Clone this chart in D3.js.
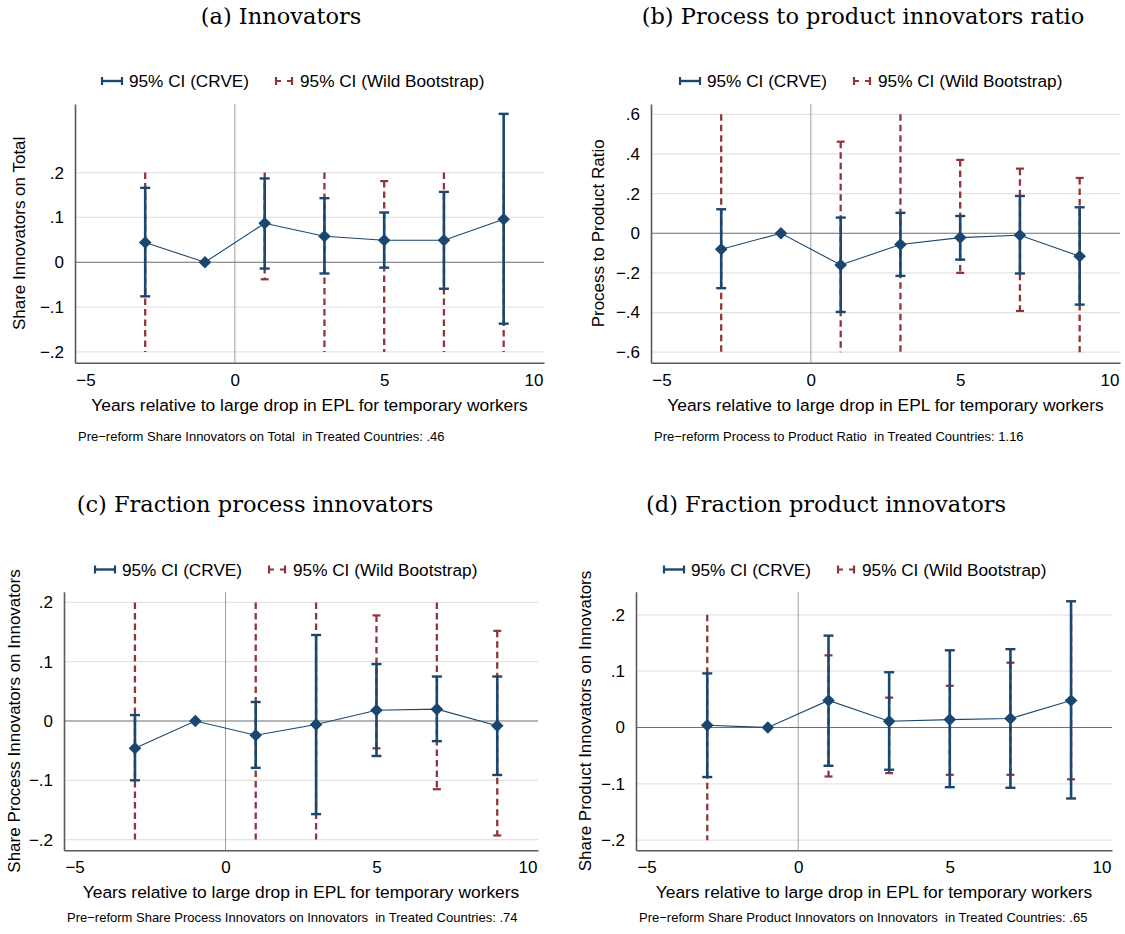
<!DOCTYPE html>
<html>
<head>
<meta charset="utf-8">
<script src="https://cdn.jsdelivr.net/npm/d3@7"></script>
<style>
body { margin: 0; background: #fff; }
text { font-family: "Liberation Sans", Arial, sans-serif; }
</style>
</head>
<body>
<svg id="chart" width="1125" height="934"></svg>
<script>
// event-study years (relative to the EPL reform)
var years = [-3, -1, 1, 3, 5, 7, 9];
var xTicks = [-5, 0, 5, 10];

// (a) share innovators on total
var innovCoef   = [0.044, 0, 0.087, 0.058, 0.049, 0.049, 0.096];
var innovCrveLo = [-0.076, null, -0.014, -0.025, -0.012, -0.059, -0.137];
var innovCrveHi = [0.166, null, 0.187, 0.143, 0.111, 0.157, 0.331];
var innovWildLo = [-0.2, null, -0.038, -0.2, -0.2, -0.2, -0.2];
var innovWildHi = [0.2, null, 0.2, 0.2, 0.181, 0.2, 0.2];

// (b) process to product ratio
var ratioCoef   = [-0.081, 0, -0.160, -0.057, -0.022, -0.010, -0.116];
var ratioCrveLo = [-0.277, null, -0.397, -0.215, -0.133, -0.203, -0.360];
var ratioCrveHi = [0.121, null, 0.079, 0.103, 0.087, 0.188, 0.131];
var ratioWildLo = [-0.6, null, -0.6, -0.6, -0.2, -0.392, -0.6];
var ratioWildHi = [0.6, null, 0.462, 0.6, 0.370, 0.326, 0.279];

// (c) fraction process innovators
var procCoef   = [-0.046, 0, -0.024, -0.006, 0.018, 0.020, -0.008];
var procCrveLo = [-0.100, null, -0.079, -0.157, -0.059, -0.034, -0.091];
var procCrveHi = [0.010, null, 0.032, 0.145, 0.096, 0.075, 0.075];
var procWildLo = [-0.2, null, -0.2, -0.2, -0.046, -0.115, -0.193];
var procWildHi = [0.2, null, 0.2, 0.2, 0.178, 0.2, 0.152];

// (d) fraction product innovators
var prodCoef   = [0.004, 0, 0.048, 0.011, 0.014, 0.016, 0.048];
var prodCrveLo = [-0.088, null, -0.068, -0.075, -0.106, -0.107, -0.126];
var prodCrveHi = [0.096, null, 0.163, 0.098, 0.137, 0.139, 0.224];
var prodWildLo = [-0.2, null, -0.087, -0.081, -0.084, -0.084, -0.092];
var prodWildHi = [0.2, null, 0.128, 0.053, 0.074, 0.115, 0.2];

var panelTitles = ["(a) Innovators", "(b) Process to product innovators ratio",
                   "(c) Fraction process innovators", "(d) Fraction product innovators"];
var yTitles = ["Share Innovators on Total", "Process to Product Ratio",
               "Share Process Innovators on Innovators", "Share Product Innovators on Innovators"];
var preReform = [".46", "1.16", ".74", ".65"];
var yTickSets = [[-0.2, -0.1, 0, 0.1, 0.2],
                 [-0.6, -0.4, -0.2, 0, 0.2, 0.4, 0.6],
                 [-0.2, -0.1, 0, 0.1, 0.2],
                 [-0.2, -0.1, 0, 0.1, 0.2]];
var yDomains = [[-0.224, 0.353], [-0.653, 0.652], [-0.218, 0.218], [-0.218, 0.241]];
var xDomain = [-5.35, 10.35];
// wild bootstrap CIs are truncated at this bound (no cap drawn there)
var wildClip = [0.2, 0.6, 0.2, 0.2];
var legendLabels = ["95% CI (CRVE)", "95% CI (Wild Bootstrap)"];

var series = [
    {coef: innovCoef, crveLo: innovCrveLo, crveHi: innovCrveHi, wildLo: innovWildLo, wildHi: innovWildHi},
    {coef: ratioCoef, crveLo: ratioCrveLo, crveHi: ratioCrveHi, wildLo: ratioWildLo, wildHi: ratioWildHi},
    {coef: procCoef, crveLo: procCrveLo, crveHi: procCrveHi, wildLo: procWildLo, wildHi: procWildHi},
    {coef: prodCoef, crveLo: prodCrveLo, crveHi: prodCrveHi, wildLo: prodWildLo, wildHi: prodWildHi}
];

// panel geometry
var layout = [
    {left: 75, right: 544, top: 104, bottom: 362.7, titleX: 281, titleY: 24, legX: 102, legY: 81, yTitleX: 19, noteDy: 78},
    {left: 651, right: 1120, top: 104, bottom: 362.7, titleX: 863, titleY: 24, legX: 680, legY: 81, yTitleX: 598, noteDy: 78},
    {left: 64, right: 538, top: 591.7, bottom: 850.3, titleX: 255, titleY: 512, legX: 95, legY: 569.5, yTitleX: 14, noteDy: 72},
    {left: 636, right: 1112, top: 591.7, bottom: 850.3, titleX: 826, titleY: 512, legX: 664, legY: 569.5, yTitleX: 585, noteDy: 72}
];

var blue = "#1a476f", red = "#90353b";
var svg = d3.select("#chart");

function fmtY(v) {
    if (Math.abs(v) < 1e-9) return "0";
    var s = d3.format("")(+Math.abs(v).toFixed(2)).replace(/^0/, "");
    return (v < 0 ? "\u2212" : "") + s;
}
function fmtX(v) {
    return (v < 0 ? "\u2212" : "") + Math.abs(v);
}

function drawPanel(p) {
    var L = layout[p], s = series[p], clip = wildClip[p];
    var g = svg.append("g");
    var x = d3.scaleLinear().domain(xDomain).range([L.left, L.right]);
    var y = d3.scaleLinear().domain(yDomains[p]).range([L.bottom, L.top]);

    // title
    svg.append("text")
        .attr("x", L.titleX).attr("y", L.titleY)
        .attr("text-anchor", "middle")
        .style("font-family", "'DejaVu Serif', serif")
        .style("font-size", "22.5px")
        .text(panelTitles[p]);

    // gridlines
    g.selectAll(".grid")
        .data(yTickSets[p].filter(function(d){ return d !== 0; }))
        .enter().append("line")
        .attr("x1", L.left).attr("x2", L.right)
        .attr("y1", function(d){ return y(d); })
        .attr("y2", function(d){ return y(d); })
        .attr("stroke", "#e4e4e4").attr("stroke-width", 1.3);

    // reference lines
    g.append("line")
        .attr("x1", x(0)).attr("x2", x(0)).attr("y1", L.top).attr("y2", L.bottom)
        .attr("stroke", "#a0a0a0").attr("stroke-width", 1);
    g.append("line")
        .attr("x1", L.left).attr("x2", L.right).attr("y1", y(0)).attr("y2", y(0))
        .attr("stroke", "#6e6e6e").attr("stroke-width", 1.2);

    // axes
    var ya = g.append("g").attr("transform", "translate(" + L.left + ",0)")
        .call(d3.axisLeft(y).tickValues(yTickSets[p]).tickSize(0).tickSizeOuter(0).tickPadding(11).tickFormat(fmtY));
    var xa = g.append("g").attr("transform", "translate(0," + L.bottom + ")")
        .call(d3.axisBottom(x).tickValues(xTicks).tickSize(0).tickSizeOuter(0).tickPadding(11).tickFormat(fmtX));
    [ya, xa].forEach(function(a) {
        a.select(".domain").attr("stroke", "#5a5a5a").attr("stroke-width", 1.6);
        a.selectAll("text").style("font-size", "17px").attr("fill", "#000")
            .style("font-family", "'Liberation Sans', Arial, sans-serif");
    });

    var idx = years.map(function(d, i){ return i; });

    // wild bootstrap CIs (dashed red)
    var wIdx = idx.filter(function(i){ return s.wildLo[i] !== null; });
    g.selectAll(".wild")
        .data(wIdx).enter().append("line")
        .attr("x1", function(i){ return x(years[i]); })
        .attr("x2", function(i){ return x(years[i]); })
        .attr("y1", function(i){ return y(s.wildHi[i]); })
        .attr("y2", function(i){ return y(s.wildLo[i]); })
        .attr("stroke", red).attr("stroke-width", 2.3)
        .attr("stroke-dasharray", "6.5,4");
    var wCaps = [];
    wIdx.forEach(function(i) {
        if (Math.abs(s.wildHi[i]) < clip - 1e-9) wCaps.push([years[i], s.wildHi[i]]);
        if (Math.abs(s.wildLo[i]) < clip - 1e-9) wCaps.push([years[i], s.wildLo[i]]);
    });
    g.selectAll(".wcap")
        .data(wCaps).enter().append("line")
        .attr("x1", function(d){ return x(d[0]) - 4; })
        .attr("x2", function(d){ return x(d[0]) + 4; })
        .attr("y1", function(d){ return y(d[1]); })
        .attr("y2", function(d){ return y(d[1]); })
        .attr("stroke", red).attr("stroke-width", 2.2);

    // CRVE CIs (solid blue)
    var cIdx = idx.filter(function(i){ return s.crveLo[i] !== null; });
    g.selectAll(".crve")
        .data(cIdx).enter().append("line")
        .attr("x1", function(i){ return x(years[i]); })
        .attr("x2", function(i){ return x(years[i]); })
        .attr("y1", function(i){ return y(s.crveHi[i]); })
        .attr("y2", function(i){ return y(s.crveLo[i]); })
        .attr("stroke", blue).attr("stroke-width", 2.6);
    var cCaps = [];
    cIdx.forEach(function(i) {
        cCaps.push([years[i], s.crveHi[i]]);
        cCaps.push([years[i], s.crveLo[i]]);
    });
    g.selectAll(".ccap")
        .data(cCaps).enter().append("line")
        .attr("x1", function(d){ return x(d[0]) - 5; })
        .attr("x2", function(d){ return x(d[0]) + 5; })
        .attr("y1", function(d){ return y(d[1]); })
        .attr("y2", function(d){ return y(d[1]); })
        .attr("stroke", blue).attr("stroke-width", 2.4);

    // point estimates
    var line = d3.line()
        .x(function(i){ return x(years[i]); })
        .y(function(i){ return y(s.coef[i]); });
    g.append("path").datum(idx)
        .attr("d", line).attr("fill", "none")
        .attr("stroke", blue).attr("stroke-width", 1.1);
    g.selectAll(".pt")
        .data(idx).enter().append("path")
        .attr("transform", function(i){ return "translate(" + x(years[i]) + "," + y(s.coef[i]) + ")"; })
        .attr("d", "M0,-6.3L6.3,0L0,6.3L-6.3,0Z")
        .attr("fill", blue);

    // legend
    var lg = svg.append("g");
    var lx = L.legX, ly = L.legY;
    lg.append("line").attr("x1", lx).attr("x2", lx + 20).attr("y1", ly).attr("y2", ly)
        .attr("stroke", blue).attr("stroke-width", 2.4);
    [lx, lx + 20].forEach(function(cx) {
        lg.append("line").attr("x1", cx).attr("x2", cx).attr("y1", ly - 4).attr("y2", ly + 4)
            .attr("stroke", blue).attr("stroke-width", 2.2);
    });
    var t1 = lg.append("text").attr("x", lx + 27).attr("y", ly + 6)
        .style("font-size", "17.2px").text(legendLabels[0]);
    var rx = lx + 27 + t1.node().getComputedTextLength() + 26;
    lg.append("line").attr("x1", rx).attr("x2", rx + 18).attr("y1", ly).attr("y2", ly)
        .attr("stroke", red).attr("stroke-width", 2.2).attr("stroke-dasharray", "6,6");
    [rx + 1, rx + 17].forEach(function(cx) {
        lg.append("line").attr("x1", cx).attr("x2", cx).attr("y1", ly - 4).attr("y2", ly + 4)
            .attr("stroke", red).attr("stroke-width", 2.2);
    });
    lg.append("text").attr("x", rx + 25).attr("y", ly + 6)
        .style("font-size", "17.2px").text(legendLabels[1]);

    // axis titles
    svg.append("text")
        .attr("transform", "translate(" + (L.yTitleX + 6) + "," + ((L.top + L.bottom) / 2) + ") rotate(-90)")
        .attr("text-anchor", "middle")
        .style("font-size", "17px")
        .text(yTitles[p]);
    svg.append("text")
        .attr("x", (L.left + L.right) / 2).attr("y", L.bottom + 48)
        .attr("text-anchor", "middle")
        .style("font-size", "17.4px")
        .text("Years relative to large drop in EPL for temporary workers");
    svg.append("text")
        .attr("x", L.left + 3).attr("y", L.bottom + L.noteDy)
        .style("font-size", "13px")
        .style("white-space", "pre")
        .text("Pre\u2212reform " + yTitles[p] + "  in Treated Countries: " + preReform[p]);
}

for (var p = 0; p < 4; p++) drawPanel(p);
</script>
</body>
</html>
